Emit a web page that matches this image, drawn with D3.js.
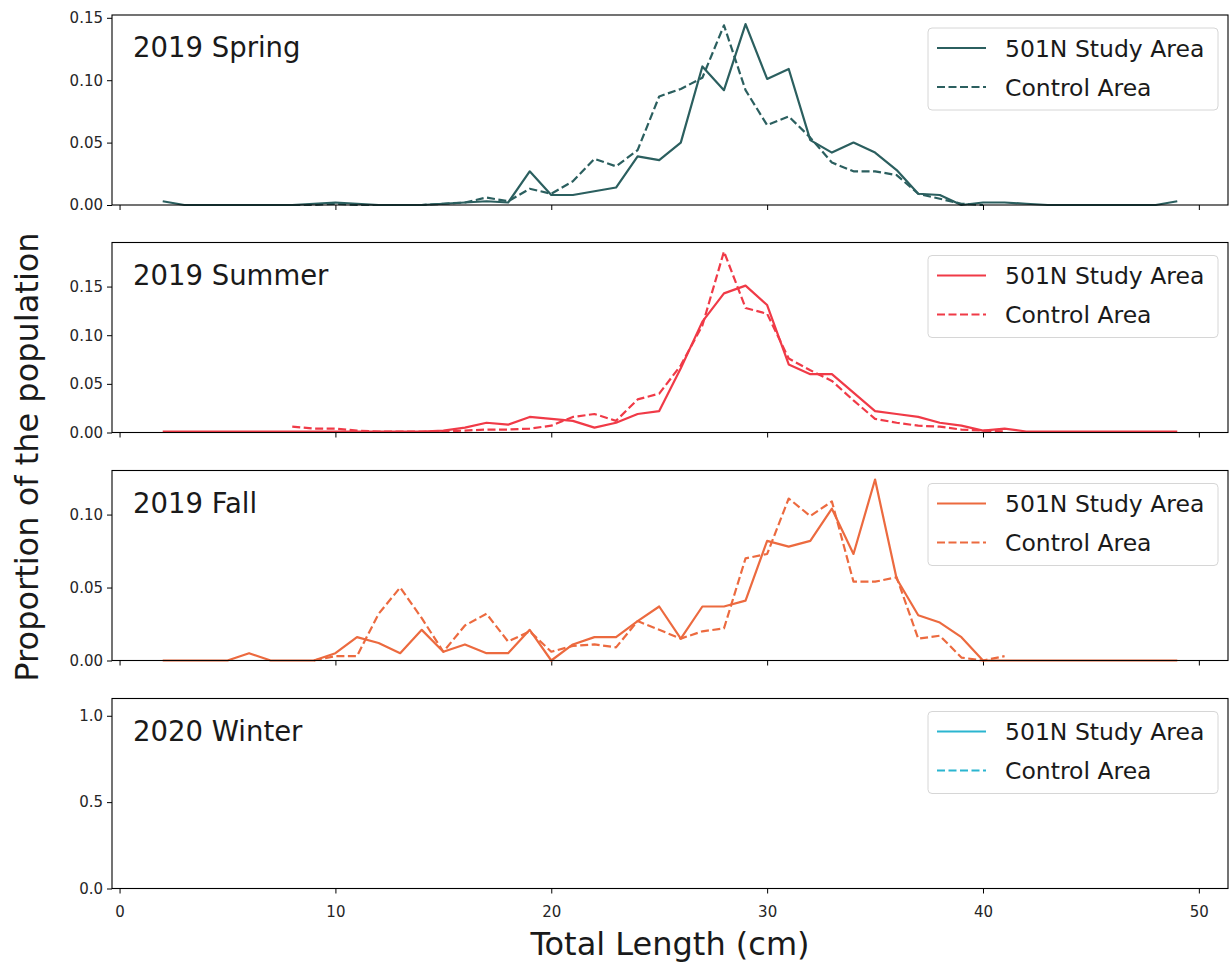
<!DOCTYPE html>
<html>
<head>
<meta charset="utf-8">
<script src="https://cdn.jsdelivr.net/npm/d3@7"></script>
<style>
  body { margin: 0; background: #fff; }
  text { font-family: "DejaVu Sans", sans-serif; }
</style>
</head>
<body>
<div id="chart"></div>
<script>
// season names and colours
var seasons = ["2019 Spring", "2019 Summer", "2019 Fall", "2020 Winter"];
var seasonColors = ["#2b5f5f", "#f03a47", "#ec6a3f", "#2bb5d0"];
var seriesNames = ["501N Study Area", "Control Area"];

// proportion by total length (cm); first length of each series given separately
var springStudyStart = 2;
var springStudy = [0.003, 0, 0, 0, 0, 0, 0, 0.001, 0.002, 0.001, 0, 0, 0, 0.001, 0.002, 0.003,
  0.002, 0.027, 0.008, 0.008, 0.011, 0.014, 0.039, 0.036, 0.050, 0.111, 0.092, 0.145, 0.101,
  0.109, 0.052, 0.042, 0.050, 0.042, 0.028, 0.009, 0.008, 0, 0.002, 0.002, 0.001, 0, 0, 0, 0,
  0, 0, 0.003];
var springControlStart = 8;
var springControl = [0, 0, 0.001, 0, 0, 0, 0, 0.001, 0.002, 0.006, 0.003, 0.013, 0.009, 0.019,
  0.037, 0.031, 0.044, 0.087, 0.093, 0.102, 0.144, 0.092, 0.064, 0.071, 0.054, 0.034, 0.027,
  0.027, 0.024, 0.009, 0.005, 0.001, 0];

var summerStudyStart = 2;
var summerStudy = [0.001, 0.001, 0.001, 0.001, 0.001, 0.001, 0.001, 0.001, 0.001, 0.001, 0.001,
  0.001, 0.001, 0.002, 0.005, 0.010, 0.008, 0.016, 0.014, 0.012, 0.005, 0.010, 0.019, 0.022,
  0.066, 0.114, 0.143, 0.151, 0.131, 0.070, 0.060, 0.060, 0.041, 0.022, 0.019, 0.016, 0.010,
  0.007, 0.002, 0.004, 0.001, 0.001, 0.001, 0.001, 0.001, 0.001, 0.001, 0.001];
var summerControlStart = 8;
var summerControl = [0.006, 0.004, 0.004, 0.002, 0.001, 0.001, 0.001, 0.001, 0.002, 0.003,
  0.003, 0.004, 0.007, 0.016, 0.019, 0.012, 0.034, 0.040, 0.069, 0.110, 0.186, 0.128, 0.122,
  0.076, 0.064, 0.053, 0.033, 0.014, 0.010, 0.007, 0.006, 0.003, 0.002, 0.001];

var fallStudyStart = 2;
var fallStudy = [0, 0, 0, 0, 0.005, 0, 0, 0, 0.005, 0.016, 0.012, 0.005, 0.021, 0.006, 0.011,
  0.005, 0.005, 0.021, 0, 0.011, 0.016, 0.016, 0.027, 0.037, 0.015, 0.037, 0.037, 0.041, 0.082,
  0.078, 0.082, 0.104, 0.073, 0.124, 0.056, 0.031, 0.026, 0.016, 0, 0, 0, 0, 0, 0, 0, 0, 0, 0];
var fallControlStart = 9;
var fallControl = [0, 0.003, 0.003, 0.032, 0.050, 0.029, 0.006, 0.024, 0.032, 0.013, 0.020,
  0.006, 0.010, 0.011, 0.009, 0.027, 0.021, 0.015, 0.020, 0.022, 0.070, 0.073, 0.111, 0.099,
  0.109, 0.054, 0.054, 0.057, 0.015, 0.017, 0.002, 0, 0.003];

// winter has no fish measured
var winterStudy = [];
var winterControl = [];

var yTicks = [[0, 0.05, 0.10, 0.15], [0, 0.05, 0.10, 0.15], [0, 0.05, 0.10], [0, 0.5, 1.0]];
var xTicks = [0, 10, 20, 30, 40, 50];

function toPoints(start, vals) {
  return vals.map(function(v, i) { return {len: start + i, p: v}; });
}

var panelData = [
  [toPoints(springStudyStart, springStudy), toPoints(springControlStart, springControl)],
  [toPoints(summerStudyStart, summerStudy), toPoints(summerControlStart, summerControl)],
  [toPoints(fallStudyStart, fallStudy), toPoints(fallControlStart, fallControl)],
  [toPoints(2, winterStudy), toPoints(2, winterControl)]
];

var width = 1229, height = 965;
var left = 112, right = 1228;
var panelTops = [15, 242.5, 470.5, 698.5];
var panelH = 190;

var svg = d3.select("#chart").append("svg")
  .attr("width", width)
  .attr("height", height);

// shared x, matplotlib style 5% margins around 2..49
var x = d3.scaleLinear().domain([2 - 2.35, 49 + 2.35]).range([left, right]);

panelData.forEach(function(series, k) {
  var top = panelTops[k];
  var maxVal = d3.max(series[0].concat(series[1]), function(d) { return d.p; });
  var yMax = maxVal ? maxVal * 1.05 : 1.1;
  var y = d3.scaleLinear().domain([0, yMax]).range([top + panelH, top]);

  var g = svg.append("g");

  var yAxis = d3.axisLeft(y).tickValues(yTicks[k]).tickSize(5).tickPadding(4)
    .tickFormat(k == 3 ? d3.format(".1f") : d3.format(".2f"));
  g.append("g")
    .attr("transform", "translate(" + left + ",0)")
    .call(yAxis)
    .call(function(a) { a.select(".domain").remove(); })
    .selectAll("text").style("font-size", "15px").attr("fill", "#262626");

  var xAxis = d3.axisBottom(x).tickValues(xTicks).tickSize(5).tickPadding(13)
    .tickFormat(k == 3 ? d3.format("d") : "");
  g.append("g")
    .attr("transform", "translate(0," + (top + panelH) + ")")
    .call(xAxis)
    .call(function(a) { a.select(".domain").remove(); })
    .selectAll("text").style("font-size", "15px").attr("fill", "#262626");

  var lineGen = d3.line()
    .x(function(d) { return x(d.len); })
    .y(function(d) { return y(d.p); });

  g.selectAll(".series")
    .data(series)
    .enter().append("path")
    .attr("d", function(d) { return d.length ? lineGen(d) : null; })
    .attr("fill", "none")
    .attr("stroke", seasonColors[k])
    .attr("stroke-width", 2.2)
    .attr("stroke-linejoin", "round")
    .attr("stroke-dasharray", function(d, i) { return i == 1 ? "8,3.5" : null; });

  // frame
  g.append("rect")
    .attr("x", left).attr("y", top)
    .attr("width", right - left).attr("height", panelH)
    .attr("fill", "none").attr("stroke", "#000").attr("stroke-width", 1.1);

  g.append("text")
    .attr("x", 133).attr("y", top + 42)
    .style("font-size", "27.5px").attr("fill", "#1a1a1a")
    .text(seasons[k]);

  // legend
  var lg = g.append("g").attr("transform", "translate(928," + (top + 13) + ")");
  lg.append("rect")
    .attr("width", 290).attr("height", 82).attr("rx", 4)
    .attr("fill", "#fff").attr("fill-opacity", 0.8)
    .attr("stroke", "#d6d6d6");
  seriesNames.forEach(function(name, i) {
    var ly = 20 + i * 39;
    lg.append("line")
      .attr("x1", 9).attr("x2", 58).attr("y1", ly).attr("y2", ly)
      .attr("stroke", seasonColors[k]).attr("stroke-width", 2.2)
      .attr("stroke-dasharray", i == 1 ? "8,3.5" : null);
    lg.append("text")
      .attr("x", 77).attr("y", ly + 8.5)
      .style("font-size", "23.5px").attr("fill", "#1a1a1a")
      .text(name);
  });
});

svg.append("text")
  .attr("x", (left + right) / 2).attr("y", 955)
  .attr("text-anchor", "middle")
  .style("font-size", "32px").attr("fill", "#1a1a1a")
  .text("Total Length (cm)");

svg.append("text")
  .attr("transform", "translate(38,457) rotate(-90)")
  .attr("text-anchor", "middle")
  .style("font-size", "32px").attr("fill", "#1a1a1a")
  .text("Proportion of the population");
</script>
</body>
</html>
